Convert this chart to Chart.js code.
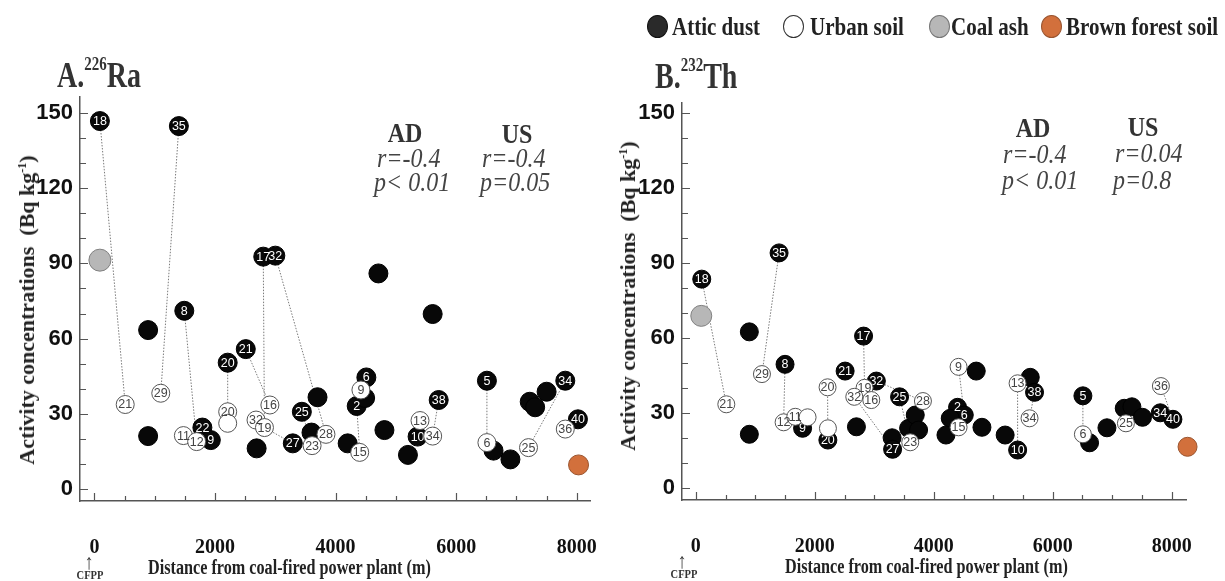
<!DOCTYPE html>
<html><head><meta charset="utf-8">
<script src="https://cdn.jsdelivr.net/npm/chart.js@4.4.1/dist/chart.umd.min.js"></script>
<style>
html,body{margin:0;padding:0;background:#fff;}
body{width:1225px;height:581px;position:relative;overflow:hidden;font-family:"Liberation Serif",serif;}
canvas{position:absolute;top:0;}
.dot{position:absolute;border-radius:50%;box-sizing:border-box;}
.ytitle{position:absolute;white-space:nowrap;font:bold 22px "Liberation Serif",serif;color:#222;transform:translate(-50%,-50%) rotate(-90deg);}
.ytitle sup{font-size:12px;}
</style></head><body>
<canvas id="ra" width="610" height="581" style="left:0"></canvas>
<canvas id="th" width="615" height="581" style="left:610px"></canvas>
<script>
// ---------- A. 226Ra ----------
const raAdX   = [90, 1400, 890, 890, 1490, 1790, 1930, 2210, 2510, 2690, 2800, 3000, 3290, 3440, 3600, 3700, 4200, 4350, 4490, 4510, 4710, 4810, 5200, 5360, 5610, 5710, 6510, 6620, 6900, 7220, 7310, 7500, 7810, 8020];
const raAdY   = [146.8, 144.8, 63.4, 21.1, 71.1, 24.5, 19.5, 50.4, 55.8, 16.2, 92.7, 93.1, 18.2, 30.8, 22.5, 36.6, 18.2, 33.1, 36.3, 44.5, 86.0, 23.5, 13.6, 20.9, 69.8, 35.5, 43.2, 15.3, 11.8, 34.8, 32.6, 38.8, 43.2, 27.8];
const raAdLbl = ['18','35','','','8','22','9','20','21','','17','32','27','25','','','','2','','6','','','','10','','38','5','','','','','','34','40'];
const raUsX   = [510, 1100, 1475, 1695, 2210, 2210, 2910, 2680, 2820, 3610, 3840, 4400, 4420, 5400, 5610, 6510, 7200, 7810];
const raUsY   = [33.7, 38.2, 21.3, 18.9, 30.8, 26.2, 33.5, 27.5, 24.5, 17.3, 21.8, 14.6, 39.5, 27.3, 21.1, 18.5, 16.5, 23.9];
const raUsLbl = ['21','29','11','12','20','','16','32','19','23','28','15','9','13','34','6','25','36'];
const raAshX = [90],   raAshY = [91.3];
const raBfsX = [8030], raBfsY = [9.6];
const raLinks = [[0,0],[1,1],[4,3],[7,4],[8,6],[10,8],[11,10],[13,9],[12,8],[17,11],[19,12],[23,13],[25,14],[26,15],[32,16],[33,17]];

// ---------- B. 232Th ----------
const thAdX   = [100, 1400, 900, 900, 1500, 1795, 2220, 2820, 2510, 2700, 3035, 3425, 3300, 3308, 3577, 3689, 3745, 4400, 4513, 4277, 4205, 4714, 4810, 5200, 5410, 5622, 5694, 6507, 6619, 6911, 7202, 7331, 7509, 7807, 8020];
const thAdY   = [83.6, 94.1, 62.5, 21.5, 49.5, 23.9, 19.2, 60.8, 46.8, 24.5, 42.8, 36.5, 20.1, 15.5, 23.9, 29.2, 23.2, 32.3, 29.2, 27.9, 21.2, 46.8, 24.3, 21.2, 15.2, 44.3, 38.3, 36.9, 18.1, 24.1, 31.9, 32.5, 28.3, 30.1, 27.5];
const thAdLbl = ['18','35','','','8','9','20','17','21','','32','25','','27','','','','2','6','','','','','','10','','38','5','','','','','','34','40'];
const thUsX   = [513, 1112, 1476, 1672, 1879, 2215, 2221, 2837, 2664, 2950, 3605, 3818, 4417, 4417, 5409, 5610, 6507, 7230, 7818];
const thUsY   = [33.5, 45.6, 26.3, 28.5, 28.3, 40.3, 23.9, 40.1, 36.5, 35.2, 18.3, 34.8, 48.5, 24.3, 41.9, 27.9, 21.5, 25.9, 40.8];
const thUsLbl = ['21','29','12','11','','20','','19','32','16','23','28','9','15','13','34','6','25','36'];
const thAshX = [92],   thAshY = [68.9];
const thBfsX = [8266], thBfsY = [16.5];
const thLinks = [[0,0],[1,1],[4,2],[6,5],[7,7],[13,8],[10,11],[11,10],[18,12],[24,14],[26,15],[27,16],[33,17],[34,18]];

// axis ticks (minor every step, labelled every major step)
const xTickMax = 8000, xMinorStep = 500, xMajorStep = 2000;
const yTickMax = 150,  yMinorStep = 10,  yMajorStep = 30;

function pts(xs, ys){ return xs.map((x,i)=>({x:x, y:ys[i]})); }
function linkPts(ax, ay, ux, uy, links){
  const out = [];
  links.forEach(([a,u])=>{
    out.push({x:ax[a], y:ay[a]}, {x:ux[u], y:uy[u]}, {x:ux[u], y:null});
  });
  return out;
}
function tickList(maxV, step){ const t=[]; for(let v=0; v<=maxV+1e-9; v+=step) t.push({value:v}); return t; }
const isMul = (v, s) => Math.abs(v/s - Math.round(v/s)) < 1e-6;

const labelPlugin = {
  id:'pointLabels',
  afterDatasetDraw(chart, args){
    const ds = chart.data.datasets[args.index];
    if (!ds.lbls) return;
    const ctx = chart.ctx;
    ctx.save();
    ctx.font = '12.5px "Liberation Sans", Arial, sans-serif';
    ctx.textAlign = 'center';
    ctx.textBaseline = 'middle';
    ctx.fillStyle = ds.lblColor;
    args.meta.data.forEach((el,i)=>{
      const t = ds.lbls[i];
      if (t) ctx.fillText(t, el.x, el.y + 0.5);
    });
    ctx.restore();
  }
};
const tickPlugin = {
  id:'inwardTicks',
  beforeDatasetsDraw(chart){
    const ctx = chart.ctx, xs = chart.scales.x, ys = chart.scales.y, a = chart.chartArea;
    ctx.save();
    ctx.strokeStyle = '#555'; ctx.lineWidth = 1.2;
    ctx.beginPath();
    xs.ticks.forEach(t=>{
      const p = Math.round(xs.getPixelForValue(t.value)) + 0.5;
      const L = isMul(t.value, xMajorStep) ? 8 : 5;
      ctx.moveTo(p, a.bottom); ctx.lineTo(p, a.bottom - L);
    });
    ys.ticks.forEach(t=>{
      const p = Math.round(ys.getPixelForValue(t.value)) + 0.5;
      const L = isMul(t.value, yMajorStep) ? 8 : 6;
      ctx.moveTo(a.left, p); ctx.lineTo(a.left + L, p);
    });
    ctx.stroke();
    ctx.restore();
  }
};

function makeChart(id, d){
  const r = d.r;
  new Chart(document.getElementById(id), {
    type:'scatter',
    data:{ datasets:[
      { label:'links', data:linkPts(d.adX,d.adY,d.usX,d.usY,d.links), showLine:true, spanGaps:false,
        borderColor:'#7a7a7a', borderWidth:1, borderDash:[1.5,1.5], pointRadius:0, order:5, clip:false },
      { label:'Attic dust', data:pts(d.adX,d.adY), lbls:d.adLbl, lblColor:'#ffffff',
        backgroundColor:'#080808', borderColor:'#000', borderWidth:1, pointRadius:r, order:3, clip:false },
      { label:'Urban soil', data:pts(d.usX,d.usY), lbls:d.usLbl, lblColor:'#444',
        backgroundColor:'#ffffff', borderColor:'#555', borderWidth:1, pointRadius:r-0.5, order:2, clip:false },
      { label:'Coal ash', data:pts(d.ashX,d.ashY), backgroundColor:'#b7b7b7', borderColor:'#808080',
        borderWidth:1, pointRadius:r+1.5, order:1, clip:false },
      { label:'Brown forest soil', data:pts(d.bfsX,d.bfsY), backgroundColor:'#d2703c', borderColor:'#9a5530',
        borderWidth:1, pointRadius:r+0.5, order:1, clip:false }
    ]},
    options:{
      responsive:false, animation:false, events:[],
      layout:{ padding:{ top:d.padTop, right:d.padRight, left:0, bottom:0 } },
      plugins:{ legend:{display:false}, tooltip:{enabled:false}, title:{display:false} },
      scales:{
        x:{ type:'linear', min:d.xMin, max:d.xMax,
            afterBuildTicks(s){ s.ticks = tickList(xTickMax, xMinorStep); },
            afterFit(s){ s.height = d.xH; s.paddingLeft = 0; s.paddingRight = 0; },
            border:{ color:'#555', width:1.5 },
            grid:{ drawOnChartArea:false, drawTicks:false },
            ticks:{ autoSkip:false, maxRotation:0, minRotation:0,
                    padding:35, color:'#111',
                    font:{ family:'"Liberation Serif", serif', weight:'bold', size:20 },
                    callback:(v)=> isMul(v, xMajorStep) ? String(v) : '' } },
        y:{ type:'linear', min:d.yMin, max:d.yMax,
            afterBuildTicks(s){ s.ticks = tickList(yTickMax, yMinorStep); },
            afterFit(s){ s.width = d.yW; s.paddingTop = 0; s.paddingBottom = 0; },
            border:{ color:'#555', width:1.5 },
            grid:{ drawOnChartArea:false, drawTicks:false },
            ticks:{ autoSkip:false, padding:7, color:'#111',
                    font:{ family:'"Liberation Sans", Arial, sans-serif', weight:'bold', size:22 },
                    callback:(v)=> isMul(v, yMajorStep) ? String(v) : '' } }
      }
    },
    plugins:[labelPlugin, tickPlugin]
  });
}

makeChart('ra', { adX:raAdX, adY:raAdY, adLbl:raAdLbl, usX:raUsX, usY:raUsY, usLbl:raUsLbl,
  ashX:raAshX, ashY:raAshY, bfsX:raBfsX, bfsY:raBfsY, links:raLinks, r:9.5,
  xMin:-240, xMax:8220, yMin:-4.8, yMax:156.4, padTop:97, padRight:20, yW:80, xH:80 });
makeChart('th', { adX:thAdX, adY:thAdY, adLbl:thAdLbl, usX:thUsX, usY:thUsY, usLbl:thUsLbl,
  ashX:thAshX, ashY:thAshY, bfsX:thBfsX, bfsY:thBfsY, links:thLinks, r:9,
  xMin:-232, xMax:8240, yMin:-4.8, yMax:154.1, padTop:103, padRight:39, yW:72, xH:81 });

// ---------- text overlays ----------
function T(x, base, html, o){
  const fs = o.fs, d = document.createElement('div');
  d.innerHTML = html;
  const asc = 0.8375*fs;
  Object.assign(d.style, {
    position:'absolute', left:x+'px', top:(base-asc)+'px', fontSize:fs+'px', lineHeight:'1',
    fontFamily:'"Liberation Serif", serif', fontWeight:o.b?'bold':'normal', fontStyle:o.i?'italic':'normal',
    color:o.c||'#222', whiteSpace:'nowrap',
    transformOrigin:(o.center?'50% ':'0 ')+asc+'px',
    transform:(o.center?'translateX(-50%) ':'')+'scaleY('+(o.sy||1)+')'
  });
  document.body.appendChild(d);
  return d;
}
function dot(cx, cy, w, h, bg, bd){
  const d = document.createElement('div'); d.className='dot';
  Object.assign(d.style,{left:(cx-w/2)+'px', top:(cy-h/2)+'px', width:w+'px', height:h+'px', background:bg, border:'1.2px solid '+bd});
  document.body.appendChild(d);
}
// panel titles
T(57, 87, 'A.<span style="font-size:15px;position:relative;top:-13px">226</span>Ra', {fs:28, b:true, c:'#333', sy:1.3});
T(655, 88, 'B.<span style="font-size:15px;position:relative;top:-13px">232</span>Th', {fs:28, b:true, c:'#333', sy:1.3});
// legend
dot(657, 26, 21, 23, '#2a2a2a', '#111');  T(672, 36, 'Attic dust', {fs:21, b:true, sy:1.22});
dot(793, 26, 21, 23, '#fff', '#333');     T(810, 36, 'Urban soil', {fs:21, b:true, sy:1.22});
dot(939, 26, 21, 23, '#b7b7b7', '#777');  T(951, 36, 'Coal ash', {fs:21, b:true, sy:1.22});
dot(1051, 26, 21, 23, '#d2703c', '#9a5530'); T(1066, 36, 'Brown forest soil', {fs:21, b:true, sy:1.22});
// statistics
T(405, 142, 'AD', {fs:24, b:true, c:'#333', center:true, sy:1.1});
T(377, 167, 'r=-0.4', {fs:24, i:true, c:'#444', sy:1.1});
T(374, 191, 'p&lt; 0.01', {fs:24, i:true, c:'#444', sy:1.1});
T(517, 143, 'US', {fs:24, b:true, c:'#333', center:true, sy:1.1});
T(482, 167, 'r=-0.4', {fs:24, i:true, c:'#444', sy:1.1});
T(480, 191, 'p=0.05', {fs:24, i:true, c:'#444', sy:1.1});
T(1033, 137, 'AD', {fs:24, b:true, c:'#333', center:true, sy:1.1});
T(1003, 163, 'r=-0.4', {fs:24, i:true, c:'#444', sy:1.1});
T(1002, 189, 'p&lt; 0.01', {fs:24, i:true, c:'#444', sy:1.1});
T(1143, 136, 'US', {fs:24, b:true, c:'#333', center:true, sy:1.1});
T(1115, 162, 'r=0.04', {fs:24, i:true, c:'#444', sy:1.1});
T(1113, 189, 'p=0.8', {fs:24, i:true, c:'#444', sy:1.1});
// x-axis titles and CFPP markers
T(148, 575, 'Distance from coal-fired power plant (m)', {fs:16.2, b:true, c:'#222', sy:1.3});
T(785, 574, 'Distance from coal-fired power plant (m)', {fs:16.2, b:true, c:'#222', sy:1.3});
T(89, 569, '↑', {fs:18, c:'#333', center:true, sy:1.2});
T(90, 580, 'CFPP', {fs:10.5, b:true, c:'#333', center:true, sy:1.2});
T(682, 568, '↑', {fs:18, c:'#333', center:true, sy:1.2});
T(684, 579, 'CFPP', {fs:10.5, b:true, c:'#333', center:true, sy:1.2});
// y-axis titles
function ytitle(cx, cy){
  const d = document.createElement('div'); d.className='ytitle';
  d.innerHTML = 'Activity concentrations&nbsp;&nbsp;(Bq kg<sup>-1</sup>)';
  d.style.left = cx+'px'; d.style.top = cy+'px';
  document.body.appendChild(d);
}
ytitle(27, 310);
ytitle(628, 296);
</script>
</body></html>
